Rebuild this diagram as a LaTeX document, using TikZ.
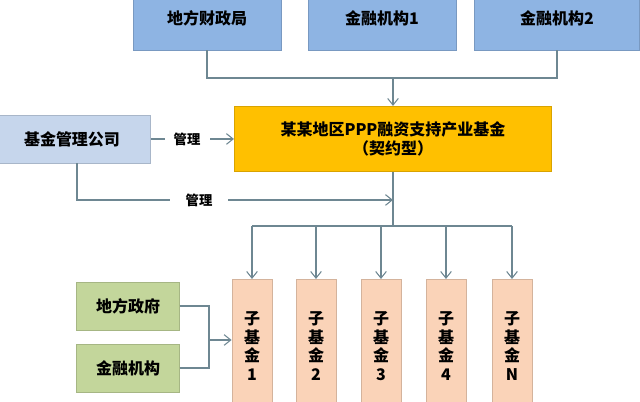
\documentclass[tikz,border=0pt]{standalone}
\usepackage{fontspec}
\setmainfont{Noto Sans CJK SC}
\usetikzlibrary{arrows.meta}
\definecolor{topblue}{HTML}{8EB4E3}
\definecolor{mgrblue}{HTML}{C6D6EC}
\definecolor{fundyel}{HTML}{FFC000}
\definecolor{govgreen}{HTML}{C3D69B}
\definecolor{subpeach}{HTML}{FAD3B8}
\definecolor{linegray}{HTML}{6E8792}
\tikzset{
  box/.style={draw=#1!85!black, fill=#1, line width=0.6pt, inner sep=0pt, font=\bfseries\large},
  link/.style={draw=linegray, line width=0.8pt},
  arr/.style={link, -{Straight Barb[length=5pt,width=8pt]}},
}
\begin{document}
\begin{tikzpicture}[x=0.75pt,y=-0.75pt]
	\useasboundingbox (0,0) rectangle (640,402);
	\clip (0,0) rectangle (640,402);

	% top sources
	\node[box=topblue, minimum width=111pt, minimum height=48pt] (caizheng) at (207,18) {地方财政局};
	\node[box=topblue, minimum width=111pt, minimum height=48pt] (jigou1) at (382,18) {金融机构1};
	\node[box=topblue, minimum width=124pt, minimum height=48pt] (jigou2) at (557,18) {金融机构2};

	% main fund
	\node[box=fundyel, minimum width=238pt, minimum height=49pt, align=center] (fund) at (393,139) {某某地区PPP融资支持产业基金\\（契约型）};

	% manager
	\node[box=mgrblue, minimum width=118pt, minimum height=36pt] (mgr) at (72,139) {基金管理公司};

	% sub funds
	\foreach \i/\x/\t in {1/252/1,2/316/2,3/381/3,4/446/4,5/512/N}
		\node[box=subpeach, minimum width=30pt, minimum height=100pt, anchor=north, align=center] (sub\i) at (\x,279) {子\\基\\金\\\t};

	% local partners
	\node[box=govgreen, minimum width=77pt, minimum height=36pt] (gov) at (128,306) {地方政府};
	\node[box=govgreen, minimum width=77pt, minimum height=36pt] (bank) at (128,368) {金融机构};

	% top lines into fund
	\coordinate (topjoin) at (393,78);
	\draw[link] (caizheng.south) |- (topjoin);
	\draw[link] (jigou2.south) |- (topjoin);
	\draw[arr] (topjoin) -- (fund.north);

	% manager lines
	\draw[link] (mgr.east) -- (165,139);
	\node[font=\bfseries] (guanli1) at (187,139) {管理};
	\draw[arr] (210,139) -- (fund.west);
	\coordinate (mgrturn) at (77,200);
	\coordinate (mgrend) at (393,200);
	\draw[link] (mgr.south -| mgrturn) -- (mgrturn) -- (170,200);
	\node[font=\bfseries] (guanli2) at (199,200) {管理};
	\draw[arr] (228,200) -- (mgrend);

	% fund down to sub funds
	\coordinate (split) at (393,226);
	\draw[link] (fund.south) -- (split);
	\draw[link] (252,226) -- (512,226);
	\foreach \i/\x in {1/252,2/316,3/381,4/446,5/512}
		\draw[arr] (\x,226) -- (sub\i.north);

	% partners into sub fund 1
	\coordinate (gjoin) at (209,340);
	\draw[link] (gov.east) -| (gjoin);
	\draw[link] (bank.east) -| (gjoin);
	\draw[arr] (gjoin) -- (sub1.west |- gjoin);
\end{tikzpicture}
\end{document}
